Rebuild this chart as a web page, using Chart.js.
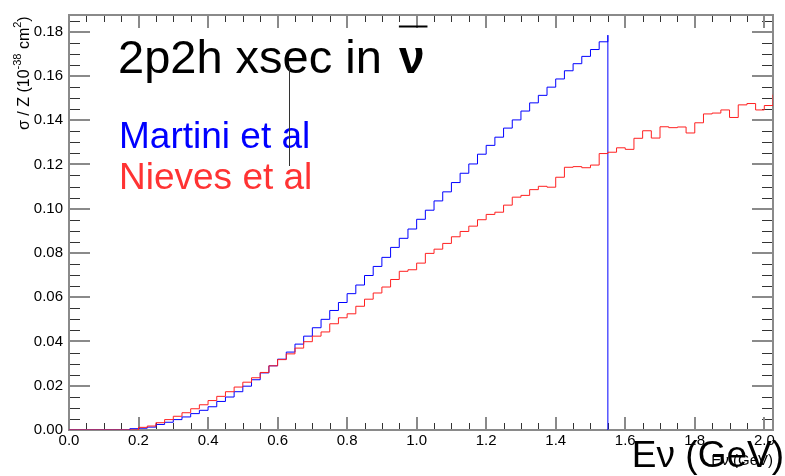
<!DOCTYPE html>
<html>
<head>
<meta charset="utf-8">
<script src="https://cdn.jsdelivr.net/npm/chart.js@4.4.0/dist/chart.umd.min.js"></script>
<style>
body { margin: 0; background: #fff; }
canvas { display: block; }
</style>
</head>
<body>
<canvas id="xsec" width="785" height="476"></canvas>
<script>
// 2p2h cross section per nucleon, anti-neutrino, 0.025 GeV bins starting at 0
const BIN_WIDTH = 0.025;
const E_MAX = 2.025;
const Y_MAX = 0.1875;

// Martini et al (histogram stops at 1.55 GeV)
const martini = [
    0, 0, 0, 0, 0, 0,
    0.0006, 0.0008, 0.0013, 0.0025, 0.0035, 0.0047, 0.0059, 0.0074, 0.0089, 0.0105,
    0.0129, 0.0149, 0.0173, 0.0198, 0.0227, 0.0258, 0.0290, 0.0320, 0.0352, 0.0388,
    0.0424, 0.0462, 0.0500, 0.0540, 0.0576, 0.0616, 0.0655, 0.0698, 0.0739, 0.0780,
    0.0825, 0.0866, 0.0908, 0.0952, 0.0993, 0.1035, 0.1076, 0.1118, 0.1160, 0.1202,
    0.1246, 0.1286, 0.1323, 0.1364, 0.1401, 0.1441, 0.1478, 0.1512, 0.1549, 0.1586,
    0.1623, 0.1655, 0.1688, 0.1719, 0.1754, 0.1784
];

// Nieves et al
const nieves = [
    0, 0, 0, 0, 0, 0, 0,
    0.0012, 0.0018, 0.0033, 0.0047, 0.0062, 0.0078, 0.0096, 0.0114, 0.0133, 0.0152,
    0.0173, 0.0194, 0.0216, 0.0236, 0.0260, 0.0290, 0.0318, 0.0344, 0.0370, 0.0399,
    0.0424, 0.0443, 0.0480, 0.0507, 0.0525, 0.0559, 0.0591, 0.0619, 0.0646, 0.0680,
    0.0717, 0.0724, 0.0754, 0.0798, 0.0817, 0.0843, 0.0873, 0.0897, 0.0921, 0.0950,
    0.0974, 0.0984, 0.1016, 0.1052, 0.1060, 0.1086, 0.1101, 0.1097, 0.1142, 0.1187,
    0.1190, 0.1185, 0.1197, 0.1249, 0.1255, 0.1275, 0.1268, 0.1318, 0.1352, 0.1319,
    0.1370, 0.1366, 0.1369, 0.1342, 0.1388, 0.1428, 0.1432, 0.1446, 0.1412, 0.1469,
    0.1475, 0.1446, 0.1466, 0.1515
];

const xTicks = [0.0, 0.2, 0.4, 0.6, 0.8, 1.0, 1.2, 1.4, 1.6, 1.8, 2.0];
const xTickLabels = ['0.0', '0.2', '0.4', '0.6', '0.8', '1.0', '1.2', '1.4', '1.6', '1.8', '2.0'];
const yTicks = [0, 0.02, 0.04, 0.06, 0.08, 0.10, 0.12, 0.14, 0.16, 0.18];
const yTickLabels = ['0.00', '0.02', '0.04', '0.06', '0.08', '0.10', '0.12', '0.14', '0.16', '0.18'];

const FONT = "'Liberation Sans', Arial, Helvetica, sans-serif";

// histogram -> step points: first point is the low edge of bin 0, every other
// point closes a bin with that bin's content (stepped 'before' draws it flat back to the previous edge)
function toSteps(values, closeValue) {
    let pts = [{ x: 0, y: values[0] }];
    values.forEach((v, i) => pts.push({ x: (i + 1) * BIN_WIDTH, y: v }));
    if (closeValue !== undefined) {
        pts.push({ x: values.length * BIN_WIDTH, y: closeValue });
    }
    return pts;
}

// frame with ROOT style ticks pointing inwards on all four sides
const frameTicks = {
    id: 'frameTicks',
    beforeDatasetsDraw(chart) {
        const ctx = chart.ctx;
        const a = chart.chartArea;
        const xs = chart.scales.x, ys = chart.scales.y;
        ctx.save();

        // minor ticks
        ctx.strokeStyle = '#333';
        ctx.lineWidth = 1;
        ctx.beginPath();
        for (let k = 1; k * 0.05 < E_MAX; k++) {
            if (k % 4 === 0) continue;
            const px = Math.round(xs.getPixelForValue(k * 0.05)) + 0.5;
            ctx.moveTo(px, a.bottom); ctx.lineTo(px, a.bottom - 7);
            ctx.moveTo(px, a.top); ctx.lineTo(px, a.top + 7);
        }
        for (let k = 1; k * 0.005 < Y_MAX; k++) {
            if (k % 4 === 0) continue;
            const py = Math.round(ys.getPixelForValue(k * 0.005)) + 0.5;
            ctx.moveTo(a.left, py); ctx.lineTo(a.left + 11, py);
            ctx.moveTo(a.right, py); ctx.lineTo(a.right - 11, py);
        }
        ctx.stroke();

        // major ticks
        ctx.strokeStyle = '#8a8a8a';
        ctx.lineWidth = 2;
        ctx.beginPath();
        xTicks.forEach(v => {
            const px = Math.round(xs.getPixelForValue(v));
            ctx.moveTo(px, a.bottom); ctx.lineTo(px, a.bottom - 13);
            ctx.moveTo(px, a.top); ctx.lineTo(px, a.top + 13);
        });
        yTicks.forEach(v => {
            const py = Math.round(ys.getPixelForValue(v));
            ctx.moveTo(a.left, py); ctx.lineTo(a.left + 21, py);
            ctx.moveTo(a.right, py); ctx.lineTo(a.right - 21, py);
        });
        ctx.stroke();

        // frame
        ctx.strokeStyle = '#8a8a8a';
        ctx.lineWidth = 2;
        ctx.strokeRect(Math.round(a.left), Math.round(a.top), Math.round(a.right - a.left), Math.round(a.bottom - a.top));
        ctx.restore();
    }
};

// titles, legend text and axis titles
const labels = {
    id: 'labels',
    afterDraw(chart) {
        const ctx = chart.ctx;
        ctx.save();
        ctx.textBaseline = 'alphabetic';
        ctx.textAlign = 'left';

        // title with anti-neutrino symbol
        ctx.fillStyle = '#000';
        ctx.font = '47px ' + FONT;
        const head = '2p2h xsec in';
        ctx.fillText(head, 118, 73);
        const nuX = 118 + ctx.measureText(head).width + 17;
        ctx.font = 'bold 46px ' + FONT;
        ctx.fillText('\u03bd', nuX, 73);
        const nuW = ctx.measureText('\u03bd').width;
        ctx.strokeStyle = '#000';
        ctx.lineWidth = 2;
        ctx.beginPath();
        ctx.moveTo(nuX, 26.5);
        ctx.lineTo(nuX + nuW + 3, 26.5);
        ctx.stroke();

        // model names
        ctx.font = '37px ' + FONT;
        ctx.fillStyle = '#0000ff';
        ctx.fillText('Martini et al', 119, 148);
        ctx.fillStyle = '#ff3333';
        ctx.fillText('Nieves et al', 119, 189);

        // thin vertical line in the text box
        ctx.strokeStyle = '#333';
        ctx.lineWidth = 1;
        ctx.beginPath();
        ctx.moveTo(289.5, 67);
        ctx.lineTo(289.5, 166);
        ctx.stroke();

        // x axis titles (small default one + large one on top)
        ctx.fillStyle = '#000';
        ctx.textAlign = 'right';
        ctx.font = '15px ' + FONT;
        ctx.fillText('E\u03bd (GeV)', 773, 465);
        ctx.font = '37px ' + FONT;
        ctx.fillText('E\u03bd (GeV)', 784, 467);

        // y axis title, rotated, with superscripts
        ctx.translate(29, 130);
        ctx.rotate(-Math.PI / 2);
        ctx.textAlign = 'left';
        let x = 0;
        const part = (txt, size, dy) => {
            ctx.font = size + 'px ' + FONT;
            ctx.fillText(txt, x, dy);
            x += ctx.measureText(txt).width;
        };
        part('\u03c3 / Z (10', 16, 0);
        part('-38', 11, -8);
        part(' cm', 16, 0);
        part('2', 11, -8);
        part(')', 16, 0);
        ctx.restore();
    }
};

new Chart(document.getElementById('xsec'), {
    type: 'line',
    data: {
        datasets: [
            {
                label: 'Nieves et al',
                data: toSteps(nieves),
                borderColor: '#ff2020',
                borderWidth: 1,
                stepped: 'before',
                pointRadius: 0,
                fill: false,
                order: 0
            },
            {
                label: 'Martini et al',
                data: toSteps(martini, 0),
                borderColor: '#0000ff',
                borderWidth: 1,
                stepped: 'before',
                pointRadius: 0,
                fill: false,
                order: 1
            }
        ]
    },
    options: {
        responsive: false,
        devicePixelRatio: 1,
        animation: false,
        layout: { padding: { top: 7, right: 12, left: 0, bottom: 0 } },
        plugins: {
            legend: { display: false },
            tooltip: { enabled: false }
        },
        scales: {
            x: {
                type: 'linear',
                min: 0,
                max: E_MAX,
                afterFit: s => { s.height = 46; },
                afterBuildTicks: s => { s.ticks = xTicks.map(v => ({ value: v })); },
                grid: { display: false, drawTicks: false },
                border: { display: false },
                ticks: {
                    autoSkip: false,
                    maxRotation: 0,
                    padding: 2,
                    color: '#000',
                    font: { family: FONT, size: 15 },
                    callback: v => xTickLabels[xTicks.indexOf(v)]
                }
            },
            y: {
                type: 'linear',
                min: 0,
                max: Y_MAX,
                afterFit: s => { s.width = 69; },
                afterBuildTicks: s => { s.ticks = yTicks.map(v => ({ value: v })); },
                grid: { display: false, drawTicks: false },
                border: { display: false },
                ticks: {
                    autoSkip: false,
                    padding: 6,
                    color: '#000',
                    font: { family: FONT, size: 15 },
                    callback: v => yTickLabels[yTicks.indexOf(v)]
                }
            }
        }
    },
    plugins: [frameTicks, labels]
});
</script>
</body>
</html>
